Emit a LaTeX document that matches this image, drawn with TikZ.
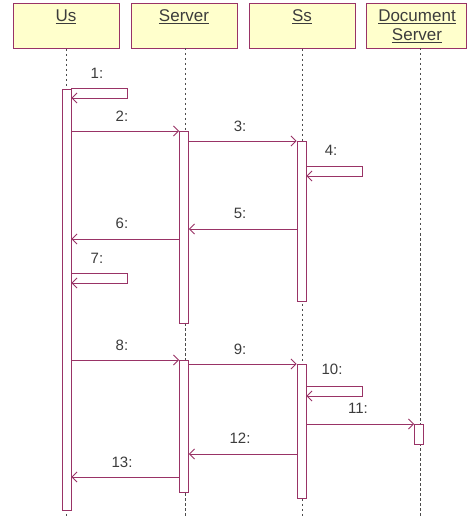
\documentclass[tikz,border=0pt]{standalone}
\usepackage{fontspec}
\setmainfont{Liberation Sans}
\usetikzlibrary{arrows.meta}
\definecolor{umlred}{RGB}{153,51,102}
\definecolor{umlfill}{RGB}{255,255,204}
\definecolor{txt}{RGB}{60,60,60}
\tikzset{
  head/.style={draw=umlred, fill=umlfill, line width=0.9pt, minimum width=106pt, minimum height=45pt, anchor=north, inner sep=0pt},
  htext/.style={text=txt, font=\fontsize{17}{19}\selectfont, inner sep=0pt},
  life/.style={draw=black!70, line width=0.9pt, dash pattern=on 2.5pt off 2.5pt},
  act/.style={draw=umlred, fill=white, line width=0.9pt, minimum width=9pt, anchor=north, inner sep=0pt},
  msg/.style={draw=umlred, line width=0.9pt, -{Straight Barb[length=5pt,width=10pt]}},
  lbl/.style={text=txt, font=\fontsize{15}{17}\selectfont, inner sep=0pt}
}
\newcommand{\ul}[1]{\underline{#1}}
\begin{document}
\begin{tikzpicture}[x=1pt,y=-1pt]
\useasboundingbox (0,0) rectangle (467,518);
\fill[white] (0,0) rectangle (467,518);
% headers
\node[head] (hus) at (66,3) {};
\node[head] (hsv) at (184,3) {};
\node[head] (hss) at (302,3) {};
\node[head, minimum width=100pt] (hds) at (416.5,3) {};
\node[htext] (tus) at (66,17) {\ul{Us}};
\node[htext] (tsv) at (184,17) {\ul{Server}};
\node[htext] (tss) at (302,17) {\ul{Ss}};
\node[htext] (tds1) at (417,17) {\ul{Document}};
\node[htext] (tds2) at (417,36) {\ul{Server}};
% lifelines
\coordinate (eus) at (66,518);
\coordinate (esv) at (185,518);
\coordinate (ess) at (302,518);
\coordinate (eds) at (420,518);
\draw[life] (hus.south) -- (eus);
\draw[life] (185,48) -- (esv);
\draw[life] (hss.south) -- (ess);
\draw[life] (420,48) -- (eds);
% activations
\node[act, minimum height=421pt] (aus) at (66.5,89) {};
\node[act, minimum height=192pt] (asv1) at (184,131) {};
\node[act, minimum height=160pt] (ass1) at (301.5,141) {};
\node[act, minimum height=132pt] (asv2) at (184,360) {};
\node[act, minimum height=134pt] (ass2) at (301.5,364) {};
\node[act, minimum height=20pt] (ads) at (419,424) {};
% messages
\draw[msg] (aus.east |- 0,88) -- (127,88) -- (127,98) -- (aus.east |- 0,98);
\node[lbl] (l1) at (97,73) {1:};
\draw[msg] (aus.east |- asv1.north) -- (asv1.north west);
\node[lbl] (l2) at (122,116) {2:};
\draw[msg] (asv1.east |- ass1.north) -- (ass1.north west);
\node[lbl] (l3) at (240,126) {3:};
\draw[msg] (ass1.east |- 0,166) -- (362,166) -- (362,176) -- (ass1.east |- 0,176);
\node[lbl] (l4) at (331,150) {4:};
\draw[msg] (ass1.west |- 0,229) -- (asv1.east |- 0,229);
\node[lbl] (l5) at (240,213) {5:};
\draw[msg] (asv1.west |- 0,239) -- (aus.east |- 0,239);
\node[lbl] (l6) at (122,223) {6:};
\draw[msg] (aus.east |- 0,273) -- (127,273) -- (127,283) -- (aus.east |- 0,283);
\node[lbl] (l7) at (97,258) {7:};
\draw[msg] (aus.east |- asv2.north) -- (asv2.north west);
\node[lbl] (l8) at (122,345) {8:};
\draw[msg] (asv2.east |- ass2.north) -- (ass2.north west);
\node[lbl] (l9) at (240,349) {9:};
\draw[msg] (ass2.east |- 0,386) -- (362,386) -- (362,396) -- (ass2.east |- 0,396);
\node[lbl] (l10) at (332,369) {10:};
\draw[msg] (ass2.east |- ads.north) -- (ads.north west);
\node[lbl] (l11) at (358,408) {11:};
\draw[msg] (ass2.west |- 0,454) -- (asv2.east |- 0,454);
\node[lbl] (l12) at (240,438) {12:};
\draw[msg] (asv2.west |- 0,477) -- (aus.east |- 0,477);
\node[lbl] (l13) at (122,462) {13:};
\end{tikzpicture}
\end{document}
